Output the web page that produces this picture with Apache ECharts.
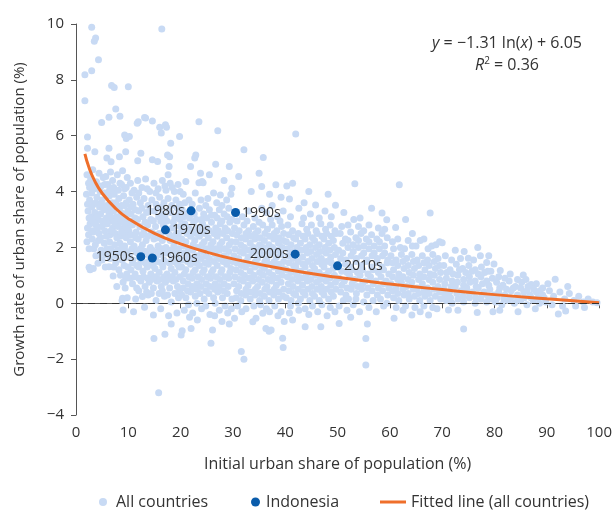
<!DOCTYPE html>
<html>
<head>
<meta charset="utf-8">
<script src="https://cdn.jsdelivr.net/npm/echarts@6/dist/echarts.min.js"></script>
<style>html,body{margin:0;padding:0;background:#fff}#c{width:615px;height:511px}</style>
</head>
<body>
<div id="c"></div>
<script>
// ---- Data ----
const cloud0to10 = [
[3.0,9.88],[3.75,9.5],[3.5,9.38],[4.3,8.72],[1.7,8.18],[3.0,8.33],[1.7,7.25],[6.8,7.8],[7.3,7.73],[10.0,7.75],
[7.6,6.96],[8.4,6.7],[6.3,6.66],[4.9,6.47],[9.3,6.03],[9.6,5.9],[2.2,5.95],[2.2,5.55],[3.6,5.43],[5.9,5.2],
[6.3,5.55],[8.3,5.25],[9.5,5.43],[6.7,5.07],
[2.1,4.6],[2.4,4.3],[2.8,4.45],[3.2,4.78],[3.5,4.1],[3.9,4.35],[4.4,4.66],[4.8,4.2],[5.2,4.5],[5.7,4.54],[6.1,4.25],[6.6,4.7],[7.0,4.4],[7.5,4.05],[7.9,4.6],[8.4,4.3],[8.9,4.75],[9.3,4.1],[9.8,4.5],
[2.0,3.9],[2.6,3.7],[3.0,3.95],[3.4,3.55],[4.0,3.8],[4.5,3.45],[5.0,3.7],[5.5,3.95],[5.9,3.5],[6.4,3.85],[6.9,3.6],[7.3,3.9],[7.8,3.45],[8.2,3.75],[8.7,3.5],[9.1,3.85],[9.6,3.6],
[2.3,3.3],[2.9,3.1],[3.6,3.25],[4.2,3.0],[4.7,3.2],[5.3,3.35],[5.8,3.05],[6.3,3.25],[6.8,2.95],[7.2,3.3],[7.7,3.1],[8.1,2.9],[8.6,3.25],[9.0,3.0],[9.5,3.2],[9.9,2.95],
[2.2,2.7],[2.7,2.85],[3.3,2.55],[3.8,2.8],[4.4,2.5],[4.9,2.75],[5.5,2.6],[6.0,2.85],[6.5,2.45],[7.0,2.7],[7.5,2.5],[8.0,2.75],[8.5,2.4],[8.9,2.65],[9.4,2.5],[9.8,2.75],
[2.1,2.2],[2.5,1.95],[3.1,2.3],[3.7,2.1],[4.3,2.25],[4.8,1.9],[5.4,2.15],[5.9,1.95],[6.4,2.2],[6.9,1.85],[7.4,2.1],[7.9,1.9],[8.4,2.15],[8.8,1.8],[9.3,2.05],[9.7,1.85],
[2.5,1.29],[2.7,1.2],[3.3,1.25],[3.8,1.7],[4.2,1.43],[5.0,1.55],[5.6,1.3],[6.3,1.31],[6.5,1.6],[7.1,0.98],[7.6,1.45],[8.2,1.2],[8.8,1.55],[9.5,0.9],[9.2,1.35],[9.9,1.3],
[8.9,0.18],[9.0,-0.24],[9.8,0.2],[8.8,0.1],[7.8,0.6],[9.4,0.55],
[2.6,4.15],[3.3,4.3],[4.6,4.0],[5.5,4.25],[6.4,4.05],[7.2,4.15],[8.1,4.05],[8.7,4.25],[9.6,4.15],
[2.2,3.55],[3.0,3.45],[3.8,3.6],[4.8,3.55],[5.6,3.4],[6.6,3.45],[7.6,3.6],[8.4,3.45],[9.3,3.5],[9.9,3.3],
[2.5,3.05],[3.3,2.95],[4.0,3.1],[5.0,2.95],[5.7,2.85],[6.6,3.1],[7.4,2.9],[8.3,3.05],[9.2,2.85],
[2.4,2.45],[3.0,2.6],[4.1,2.7],[4.7,2.35],[5.8,2.4],[6.7,2.6],[7.8,2.35],[8.7,2.55],[9.6,2.35],
[3.4,1.95],[4.5,1.75],[5.7,1.75],[6.6,1.95],[7.6,1.7],[8.6,1.95],[9.5,1.65],
[7.2,1.3],[8.5,1.0],[9.0,0.75],[9.7,1.05]
];
const cloud10to20 = [
[13.1,6.65],[11.9,6.5],[14.6,6.53],[16.4,9.82],[16.0,6.3],[17.3,6.3],[16.3,6.1],[11.7,6.45],[13.3,6.63],[17.1,6.39],
[19.8,5.97],[18.1,5.73],[17.9,5.25],[11.8,5.1],[12.4,5.37],[14.6,5.14],[15.6,5.08],[17.5,5.31],[17.8,4.9],[17.6,4.6],[10.2,5.97],
[10.4,4.3],[11.1,4.05],[11.8,4.4],[12.6,4.15],[13.3,4.45],[14.1,4.0],[14.9,4.3],[15.7,4.1],[16.5,4.4],[17.2,4.05],[18.0,4.3],[18.8,4.0],[19.5,4.25],
[10.2,3.7],[10.9,3.55],[11.6,3.8],[12.3,3.6],[13.0,3.75],[13.8,3.5],[14.5,3.7],[15.3,3.55],[16.0,3.8],[16.8,3.6],[17.6,3.75],[18.3,3.5],[19.1,3.7],[19.8,3.55],
[10.5,3.2],[11.3,3.05],[12.0,3.3],[12.8,3.1],[13.5,3.25],[14.3,3.0],[15.0,3.3],[15.8,3.1],[16.6,3.2],[17.4,2.95],[18.1,3.25],[18.9,3.05],[19.6,3.2],
[10.1,2.6],[10.8,2.8],[11.5,2.55],[12.2,2.75],[13.0,2.6],[13.7,2.8],[14.4,2.55],[15.2,2.75],[15.9,2.5],[16.7,2.8],[17.5,2.55],[18.4,2.7],[19.2,2.5],[19.9,2.75],
[10.4,2.2],[11.1,2.05],[11.9,2.3],[12.7,2.1],[13.4,2.25],[14.2,2.0],[14.9,2.3],[15.7,2.05],[16.5,2.25],[17.2,2.0],[18.0,2.25],[18.7,2.05],[19.5,2.3],
[10.2,1.7],[10.9,1.55],[11.7,1.8],[13.3,1.85],[16.0,1.75],[16.8,1.55],[17.6,1.8],[18.4,1.6],[19.2,1.75],[19.9,1.55],
[10.5,1.2],[11.3,1.05],[12.0,1.3],[12.8,1.15],[13.6,1.3],[14.3,1.05],[15.1,1.25],[15.9,1.1],[16.6,1.3],[17.4,1.05],[18.2,1.25],[18.9,1.1],[19.7,1.3],
[10.8,0.7],[11.6,0.55],[12.4,0.8],[13.2,0.6],[14.0,0.75],[14.8,0.55],[15.5,0.8],[16.3,0.6],[17.1,0.75],[17.9,0.55],[18.6,0.8],[19.4,0.6],
[11.4,0.15],[12.7,0.24],[13.8,0.3],[15.3,0.1],[16.9,0.25],[18.2,0.05],[19.6,0.2],
[11.0,-0.3],[13.1,-0.14],[14.8,-0.42],[15.8,-3.2],[14.9,-1.26],[17.0,-1.11],[18.2,-0.74],[16.2,-0.2],[19.3,-0.35],[17.7,-0.45],
[10.7,3.95],[12.0,3.95],[13.6,4.1],[15.3,3.95],[17.0,4.2],[18.4,4.15],[19.9,4.0],
[10.5,3.45],[11.3,3.35],[12.6,3.4],[14.1,3.3],[15.6,3.4],[16.4,3.45],[17.8,3.35],[19.4,3.4],
[10.9,2.95],[11.8,3.0],[13.2,2.9],[14.8,2.95],[16.2,2.95],[17.0,3.1],[18.6,2.9],[19.9,3.0],
[10.5,2.45],[11.4,2.35],[12.6,2.45],[13.7,2.4],[14.7,2.5],[15.6,2.35],[16.3,2.5],[17.9,2.45],[18.8,2.35],[19.6,2.5],
[10.7,1.95],[11.5,1.85],[12.3,1.95],[13.0,1.85],[14.0,1.7],[14.6,1.9],[15.2,1.6],[15.6,1.85],[16.4,1.95],[17.1,1.8],[18.0,1.9],[18.8,1.85],[19.6,1.95],
[10.8,1.45],[11.6,1.35],[12.4,1.5],[13.2,1.45],[14.0,1.5],[14.7,1.35],[15.5,1.5],[16.3,1.45],[17.0,1.5],[17.8,1.45],[18.6,1.5],[19.4,1.4],
[10.4,0.9],[11.2,0.95],[12.0,0.9],[12.9,0.95],[13.7,0.9],[14.4,0.85],[15.2,0.95],[16.0,0.85],[16.9,0.95],[17.6,0.85],[18.3,0.95],[19.1,0.85],[19.9,0.95],
[12.0,0.45],[13.5,0.4],[14.4,0.35],[15.9,0.35],[16.5,0.45],[17.5,0.3],[18.9,0.35],[19.8,0.45]
];
const cloud20to30 = [
[23.5,6.5],[27.1,6.18],[22.7,5.2],[26.7,4.98],[29.3,4.9],[22.9,5.31],[21.9,4.9],[23.8,4.66],[23.5,4.32],[24.3,4.32],[21.0,4.36],[24.1,4.36],[27.6,3.88],[29.8,4.12],[25.5,4.6],[28.3,4.4],
[20.5,3.9],[21.6,3.7],[22.8,3.95],[25.2,3.75],[26.3,3.95],[28.8,3.7],[29.6,3.9],
[20.3,3.35],[21.1,3.2],[23.6,3.4],[24.4,3.2],[25.5,3.35],[26.5,3.15],[27.4,3.35],[28.3,3.2],[29.2,3.4],
[20.8,2.85],[21.6,2.7],[22.5,2.9],[23.3,2.7],[24.2,2.85],[25.0,2.7],[25.9,2.9],[26.7,2.7],[27.6,2.85],[28.5,2.7],[29.4,2.9],
[20.2,2.3],[21.0,2.2],[21.9,2.4],[22.7,2.25],[23.6,2.4],[24.5,2.2],[25.3,2.35],[26.2,2.2],[27.0,2.4],[27.9,2.2],[28.8,2.35],[29.7,2.2],
[20.6,1.8],[21.4,1.7],[22.3,1.9],[23.1,1.7],[24.0,1.85],[24.8,1.7],[25.7,1.9],[26.6,1.75],[27.4,1.9],[28.3,1.7],[29.2,1.85],
[20.2,1.3],[21.0,1.2],[21.9,1.4],[22.8,1.2],[23.6,1.35],[24.5,1.2],[25.3,1.4],[26.2,1.2],[27.0,1.35],[27.9,1.2],[28.8,1.4],[29.6,1.25],
[20.5,0.8],[21.4,0.7],[22.2,0.9],[23.1,0.7],[24.0,0.85],[24.9,0.7],[25.7,0.9],[26.6,0.7],[27.5,0.85],[28.3,0.7],[29.2,0.9],
[20.2,0.3],[21.0,0.2],[21.9,0.4],[22.8,0.25],[23.7,0.35],[24.5,0.15],[25.4,0.35],[26.3,0.2],[27.1,0.4],[28.0,0.2],[28.9,0.35],[29.8,0.15],
[20.7,-0.25],[22.3,-0.35],[24.0,-0.2],[25.6,-0.4],[27.4,-0.25],[29.0,-0.35],
[20.1,-1.14],[20.3,-0.98],[22.0,-0.9],[25.8,-1.43],[26.1,-0.96],[29.3,-0.74],[23.2,-0.6],[27.9,-0.65],
[20.8,3.6],[22.2,3.55],[23.9,3.7],[24.8,3.5],[26.9,3.6],[27.9,3.5],
[20.6,3.1],[21.7,3.05],[22.6,3.2],[23.0,3.0],[24.0,3.0],[25.0,3.05],[25.9,3.15],[27.0,3.05],[27.9,2.95],[28.9,3.1],[29.8,3.0],
[20.4,2.6],[21.2,2.5],[22.1,2.6],[23.0,2.5],[23.8,2.6],[24.6,2.5],[25.5,2.6],[26.4,2.5],[27.2,2.6],[28.1,2.5],[29.0,2.6],[29.9,2.5],
[20.6,2.05],[21.5,1.95],[22.4,2.1],[23.2,2.0],[24.1,2.1],[24.9,1.95],[25.8,2.1],[26.7,1.95],[27.5,2.1],[28.4,1.95],[29.3,2.1],
[20.4,1.55],[21.3,1.5],[22.1,1.6],[23.0,1.45],[23.9,1.6],[24.7,1.45],[25.5,1.6],[26.4,1.5],[27.3,1.6],[28.1,1.5],[29.0,1.6],[29.9,1.5],
[20.7,1.05],[21.6,0.95],[22.4,1.1],[23.3,0.95],[24.2,1.1],[25.1,0.95],[25.9,1.1],[26.8,0.95],[27.7,1.1],[28.5,0.95],[29.4,1.1],
[20.5,0.55],[21.3,0.45],[22.2,0.6],[23.0,0.5],[23.9,0.6],[24.8,0.45],[25.6,0.6],[26.5,0.5],[27.4,0.6],[28.2,0.45],[29.1,0.6],
[21.5,-0.05],[23.1,0.0],[24.8,-0.1],[26.6,0.0],[28.5,-0.1],[29.7,-0.2],[21.7,-0.5],[26.5,-0.45]
];
const cloud30to40 = [
[32.1,5.5],[35.8,5.22],[35.0,4.66],[35.5,4.18],[38.2,4.24],[31.1,4.54],[33.5,4.0],[37.0,3.9],[39.2,3.8],
[31.8,3.1],[33.0,3.3],[34.2,3.05],[36.4,3.25],[38.5,3.1],[39.6,3.3],
[30.3,2.7],[31.2,2.6],[32.1,2.8],[33.0,2.6],[33.9,2.75],[34.8,2.6],[35.7,2.8],[36.6,2.65],[37.5,2.8],[38.4,2.6],[39.3,2.75],
[30.6,2.2],[31.5,2.1],[32.4,2.3],[33.3,2.15],[34.2,2.3],[35.1,2.1],[36.0,2.25],[36.9,2.1],[37.8,2.3],[38.7,2.15],[39.6,2.25],
[30.2,1.7],[31.1,1.6],[32.0,1.8],[32.9,1.65],[33.8,1.8],[34.7,1.6],[35.6,1.75],[36.5,1.6],[37.4,1.8],[38.3,1.65],[39.2,1.75],
[30.6,1.2],[31.5,1.1],[32.4,1.3],[33.3,1.15],[34.2,1.3],[35.1,1.1],[36.0,1.25],[36.9,1.1],[37.8,1.3],[38.7,1.15],[39.6,1.25],
[30.2,0.7],[31.1,0.6],[32.0,0.8],[32.9,0.65],[33.8,0.8],[34.7,0.6],[35.6,0.75],[36.5,0.6],[37.4,0.8],[38.3,0.65],[39.2,0.75],
[30.6,0.2],[31.5,0.1],[32.4,0.3],[33.3,0.15],[34.2,0.3],[35.1,0.1],[36.0,0.25],[36.9,0.1],[37.8,0.3],[38.7,0.15],[39.6,0.25],
[30.3,-0.54],[31.7,-0.3],[33.8,-0.66],[35.7,-0.36],[34.4,-0.54],[37.0,-0.3],[38.6,-0.45],[39.8,-0.65],
[31.6,-1.73],[32.1,-2.0],[36.3,-0.9],[36.9,-1.0],[37.3,-0.96],[39.5,-1.25],[39.6,-1.58],
[30.8,2.95],[32.7,2.95],[35.0,2.9],[37.2,3.0],[39.0,2.95],[35.5,3.4],[37.5,3.5],
[30.7,2.45],[31.6,2.35],[32.5,2.5],[33.4,2.4],[34.3,2.5],[35.2,2.35],[36.1,2.5],[37.0,2.4],[37.9,2.5],[38.8,2.35],[39.7,2.5],
[30.4,1.95],[31.3,1.85],[32.2,2.0],[33.1,1.9],[34.0,2.0],[34.9,1.85],[35.8,2.0],[36.7,1.85],[37.6,2.0],[38.5,1.9],[39.4,2.0],
[30.7,1.45],[31.6,1.35],[32.5,1.5],[33.4,1.4],[34.3,1.5],[35.2,1.35],[36.1,1.5],[37.0,1.4],[37.9,1.5],[38.8,1.4],[39.7,1.5],
[30.4,0.95],[31.3,0.85],[32.2,1.0],[33.1,0.9],[34.0,1.0],[34.9,0.85],[35.8,1.0],[36.7,0.85],[37.6,1.0],[38.5,0.9],[39.4,1.0],
[30.7,0.45],[31.6,0.35],[32.5,0.5],[33.4,0.4],[34.3,0.5],[35.2,0.35],[36.1,0.5],[37.0,0.4],[37.9,0.5],[38.8,0.4],[39.7,0.5],
[30.9,-0.1],[32.5,-0.2],[34.0,-0.1],[35.3,-0.05],[36.4,-0.2],[38.0,-0.1],[39.2,-0.3]
];
const cloud40to50 = [
[42.0,6.06],[40.3,4.2],[41.4,4.3],[40.8,3.73],[43.6,3.6],[42.6,3.4],[45.8,3.52],[47.6,3.3],[49.6,3.51],[44.5,4.0],[48.2,3.9],
[40.5,2.8],[41.4,2.6],[43.2,2.85],[44.1,2.65],[45.0,2.8],[45.9,2.6],[46.8,2.85],[47.7,2.65],[48.6,2.8],[49.5,2.6],
[40.2,2.2],[41.1,2.1],[42.0,2.3],[42.9,2.15],[43.8,2.3],[44.7,2.1],[45.6,2.25],[46.5,2.1],[47.4,2.3],[48.3,2.15],[49.2,2.25],
[40.6,1.7],[41.5,1.6],[43.3,1.65],[44.2,1.8],[45.1,1.6],[46.0,1.75],[46.9,1.6],[47.8,1.8],[48.7,1.65],[49.6,1.75],
[40.2,1.2],[41.1,1.1],[42.0,1.3],[42.9,1.15],[43.8,1.3],[44.7,1.1],[45.6,1.25],[46.5,1.1],[47.4,1.3],[48.3,1.15],[49.2,1.25],
[40.6,0.7],[41.5,0.6],[42.4,0.8],[43.3,0.65],[44.2,0.8],[45.1,0.6],[46.0,0.75],[46.9,0.6],[47.8,0.8],[48.7,0.65],[49.6,0.75],
[40.2,0.2],[41.1,0.1],[42.0,0.3],[42.9,0.15],[43.8,0.3],[44.7,0.1],[45.6,0.25],[46.5,0.1],[47.4,0.3],[48.3,0.15],[49.2,0.25],
[40.8,-0.35],[41.4,-0.6],[42.6,-0.25],[43.8,-0.84],[44.5,-0.4],[46.2,-0.3],[46.8,-0.84],[48.0,-0.45],[49.5,-0.3],
[41.0,3.1],[43.5,3.05],[44.8,3.2],[46.5,3.05],[48.8,3.1],
[40.7,2.45],[41.6,2.35],[42.5,2.5],[43.4,2.4],[44.3,2.5],[45.2,2.35],[46.1,2.5],[47.0,2.4],[47.9,2.5],[48.8,2.4],[49.7,2.5],
[40.4,1.95],[41.3,1.85],[42.2,2.0],[43.1,1.9],[44.0,2.0],[44.9,1.85],[45.8,2.0],[46.7,1.85],[47.6,2.0],[48.5,1.9],[49.4,2.0],
[40.7,1.45],[41.6,1.35],[42.5,1.5],[43.4,1.4],[44.3,1.5],[45.2,1.35],[46.1,1.5],[47.0,1.4],[47.9,1.5],[48.8,1.45],
[40.4,0.95],[41.3,0.85],[42.2,1.0],[43.1,0.9],[44.0,1.0],[44.9,0.85],[45.8,1.0],[46.7,0.85],[47.6,1.0],[48.5,0.9],[49.4,1.0],
[40.7,0.45],[41.6,0.35],[42.5,0.5],[43.4,0.4],[44.3,0.5],[45.2,0.35],[46.1,0.5],[47.0,0.4],[47.9,0.5],[48.8,0.4],[49.7,0.5],
[41.0,-0.1],[42.5,0.0],[43.8,-0.2],[45.2,-0.1],[47.0,-0.05],[48.6,-0.15]
];
const cloud50to60 = [
[53.3,4.28],[51.2,3.25],[54.3,3.05],[58.5,3.23],[59.4,2.99],[56.5,3.4],[53.1,3.0],[55.0,2.6],
[50.5,2.5],[51.5,2.3],[52.5,2.55],[53.5,2.35],[54.5,2.5],[55.5,2.3],[56.5,2.45],[57.5,2.3],[58.5,2.5],[59.5,2.35],
[50.2,1.9],[51.0,1.8],[52.0,2.0],[53.0,1.85],[54.0,2.0],[55.0,1.8],[56.0,1.95],[57.0,1.8],[58.0,1.95],[59.0,1.8],
[51.5,1.4],[52.5,1.3],[53.5,1.5],[54.5,1.35],[55.5,1.5],[56.5,1.3],[57.5,1.45],[58.5,1.3],[59.5,1.45],
[50.3,0.9],[51.3,0.8],[52.3,1.0],[53.3,0.85],[54.3,1.0],[55.3,0.8],[56.3,0.95],[57.3,0.8],[58.3,0.95],[59.3,0.8],
[50.6,0.4],[51.6,0.3],[52.6,0.5],[53.6,0.35],[54.6,0.5],[55.6,0.3],[56.6,0.45],[57.6,0.3],[58.6,0.45],[59.6,0.3],
[50.3,-0.1],[51.8,-0.25],[53.0,-0.05],[54.2,-0.3],[56.0,-0.15],[57.4,-0.3],[58.8,-0.1],
[50.3,-0.72],[55.4,-1.26],[55.4,-2.21],[55.7,-0.74],[52.5,-0.5],
[50.8,2.75],[52.0,2.8],[54.0,2.75],[56.0,2.8],[57.8,2.7],[59.0,2.65],
[51.0,2.15],[52.0,2.25],[53.0,2.1],[54.0,2.25],[55.0,2.05],[56.0,2.2],[57.0,2.05],[58.0,2.2],[59.0,2.05],
[50.6,1.6],[51.6,1.55],[52.6,1.7],[53.6,1.6],[54.6,1.7],[55.6,1.55],[56.6,1.7],[57.6,1.6],[58.6,1.7],[59.6,1.55],
[50.8,1.15],[51.8,1.1],[52.8,1.2],[53.8,1.1],[54.8,1.2],[55.8,1.05],[56.8,1.2],[57.8,1.1],[58.8,1.2],[59.8,1.05],
[50.8,0.65],[51.8,0.55],[52.8,0.7],[53.8,0.6],[54.8,0.7],[55.8,0.55],[56.8,0.7],[57.8,0.55],[58.8,0.7],[59.8,0.55],
[51.1,0.1],[52.1,0.15],[53.5,0.15],[55.0,0.05],[56.8,0.1],[58.2,0.15],[59.4,0.0]
];
const cloud60to70 = [
[61.8,4.24],[61.1,2.71],[67.7,3.23],[64.3,2.5],[63.0,3.0],
[60.5,2.2],[62.0,2.0],[63.5,2.25],[65.0,2.05],[66.5,2.3],[68.0,2.05],[69.5,2.2],
[60.2,1.7],[61.2,1.55],[62.2,1.75],[63.2,1.6],[64.2,1.75],[65.2,1.55],[66.2,1.7],[67.2,1.55],[68.2,1.75],[69.2,1.6],
[60.7,1.2],[61.7,1.05],[62.7,1.25],[63.7,1.1],[64.7,1.25],[65.7,1.05],[66.7,1.2],[67.7,1.05],[68.7,1.25],[69.7,1.1],
[60.2,0.7],[61.2,0.55],[62.2,0.75],[63.2,0.6],[64.2,0.75],[65.2,0.55],[66.2,0.7],[67.2,0.55],[68.2,0.75],[69.2,0.6],
[60.7,0.2],[61.7,0.1],[62.7,0.3],[63.7,0.15],[64.7,0.25],[65.7,0.1],[66.7,0.25],[67.7,0.1],[68.7,0.25],[69.7,0.15],
[60.8,-0.54],[64.2,-0.42],[67.4,-0.42],[62.5,-0.25],[65.8,-0.3],[69.0,-0.2],
[60.7,1.95],[61.5,2.3],[62.8,1.95],[64.3,2.05],[65.8,2.25],[67.3,1.95],[68.8,2.1],
[60.5,1.45],[61.5,1.35],[62.5,1.5],[63.5,1.35],[64.5,1.5],[65.5,1.35],[66.5,1.45],[67.5,1.35],[68.5,1.5],[69.5,1.35],
[60.5,0.95],[61.5,0.85],[62.5,0.95],[63.5,0.85],[64.5,1.0],[65.5,0.85],[66.5,0.95],[67.5,0.85],[68.5,1.0],[69.5,0.85],
[60.5,0.45],[61.5,0.35],[62.5,0.5],[63.5,0.35],[64.5,0.5],[65.5,0.35],[66.5,0.45],[67.5,0.35],[68.5,0.5],[69.5,0.4],
[61.2,-0.15],[63.0,-0.1],[64.8,-0.15],[66.5,-0.1],[68.2,-0.15]
];
const cloud70to80 = [
[70.0,2.17],[75.0,1.61],[78.5,1.46],[79.9,1.41],[72.5,1.9],[76.8,2.0],
[70.3,1.35],[71.5,1.2],[72.7,1.4],[73.9,1.25],[75.1,1.35],[76.3,1.2],[77.5,1.3],[78.7,1.15],
[70.8,0.9],[71.9,0.8],[73.0,1.0],[74.1,0.85],[75.2,0.95],[76.3,0.8],[77.4,0.95],[78.5,0.8],[79.6,0.9],
[70.3,0.5],[71.4,0.4],[72.5,0.6],[73.6,0.45],[74.7,0.55],[75.8,0.4],[76.9,0.55],[78.0,0.4],[79.1,0.5],
[70.8,0.1],[71.9,0.0],[73.0,0.15],[74.1,0.05],[75.2,0.2],[76.3,0.0],[77.4,0.15],[78.5,0.05],[79.6,0.15],
[71.2,-0.24],[74.1,-0.92],[76.7,-0.33],[79.7,-0.3],[73.0,-0.25],
[70.6,1.7],[71.8,1.55],[73.5,1.6],[74.2,1.85],[76.0,1.55],[77.3,1.7],[78.9,1.7],
[70.9,1.1],[72.1,1.05],[73.3,1.2],[74.5,1.1],[75.7,1.15],[76.9,1.05],[78.1,1.1],[79.3,1.15],
[70.5,0.7],[71.7,0.6],[72.9,0.75],[74.1,0.65],[75.3,0.75],[76.5,0.6],[77.7,0.7],[78.9,0.65],
[70.5,0.3],[71.6,0.2],[72.8,0.35],[74.0,0.25],[75.2,0.35],[76.4,0.2],[77.6,0.3],[78.8,0.25],[79.9,0.3]
];
const cloud80to100 = [
[81.1,1.17],[85.5,1.01],[87.0,0.67],[83.0,1.05],
[80.4,0.75],[81.6,0.65],[82.8,0.8],[84.0,0.6],[85.2,0.75],[86.4,0.6],[88.0,0.7],[89.2,0.55],
[80.8,0.4],[82.0,0.3],[83.2,0.45],[84.4,0.3],[85.6,0.4],[86.8,0.3],[88.0,0.4],[89.2,0.3],
[80.2,0.05],[81.4,-0.05],[82.6,0.1],[83.8,0.0],[85.0,0.1],[86.2,-0.05],[87.4,0.1],[88.6,0.0],[89.8,0.05],
[81.0,-0.25],[84.5,-0.3],[87.8,-0.2],
[91.6,0.86],[92.2,-0.38],[93.6,-0.28],[90.5,0.45],[91.3,0.25],[92.5,0.4],[93.4,0.15],[94.3,0.35],[95.2,0.1],[96.1,0.25],[97.0,0.05],[97.9,0.15],[98.8,0.05],[99.6,0.02],
[91.0,-0.05],[93.0,-0.1],[95.5,-0.1],[97.2,-0.15],[90.2,0.7],[94.0,0.6],
[80.8,0.95],[82.0,0.9],[84.4,0.85],[86.0,0.85],[81.0,0.55],[82.3,0.5],[83.6,0.55],[85.0,0.55],[86.2,0.45],[87.5,0.5],[88.7,0.45],
[80.5,0.2],[81.8,0.15],[83.1,0.2],[84.4,0.15],[85.7,0.2],[87.0,0.2],[88.3,0.2],[89.5,0.2]
];

const indonesiaDecades = ['1950s','1960s','1970s','1980s','1990s','2000s','2010s'];
const indonesiaShare   = [12.4, 14.6, 17.1, 22.0, 30.5, 41.9, 50.0];
const indonesiaGrowth  = [1.67, 1.62, 2.63, 3.31, 3.25, 1.76, 1.34];

const fittedX = [1.7, 2.5, 3.5, 5, 7.5, 10, 15, 20, 25, 30, 40, 50, 60, 70, 80, 90, 100];
const fittedY = [5.35, 4.85, 4.41, 3.94, 3.41, 3.03, 2.50, 2.13, 1.83, 1.59, 1.22, 0.93, 0.69, 0.49, 0.31, 0.16, 0.02];

// ---- Chart ----
const FONT = '"Open Sans", "Noto Sans", sans-serif';
const TXT = '#333333';
const LIGHT = '#c8daf4';
const DARK = '#0a5cab';
const ORANGE = '#ef6f2b';

const allCloud = [].concat(cloud0to10, cloud10to20, cloud20to30, cloud30to40,
  cloud40to50, cloud50to60, cloud60to70, cloud70to80, cloud80to100);

const leftLabels = {'1950s': true, '1980s': true, '2000s': true};
const indoData = indonesiaDecades.map((d, i) => ({
  value: [indonesiaShare[i], indonesiaGrowth[i]],
  name: d,
  label: { position: leftLabels[d] ? 'left' : 'right' }
}));
const fitted = fittedX.map((x, i) => [x, fittedY[i]]);

const chart = echarts.init(document.getElementById('c'), null, {renderer: 'canvas'});
chart.setOption({
  animation: false,
  backgroundColor: '#fff',
  textStyle: { fontFamily: FONT },
  grid: { left: 76, right: 14, top: 24, bottom: 96, containLabel: false },
  xAxis: {
    type: 'value', min: 0, max: 100, interval: 10,
    name: 'Initial urban share of population (%)',
    nameLocation: 'middle', nameGap: 41,
    nameTextStyle: { color: TXT, fontSize: 16, fontFamily: FONT },
    axisLine: { show: true, lineStyle: { color: '#555', width: 1 } },
    axisTick: { show: true, length: 5, lineStyle: { color: '#555' } },
    axisLabel: { color: TXT, fontSize: 15, margin: 10, fontFamily: FONT },
    splitLine: { show: false }
  },
  yAxis: {
    type: 'value', min: -4, max: 10, interval: 2,
    name: 'Growth rate of urban share of population (%)',
    nameLocation: 'middle', nameGap: 49, nameRotate: 90,
    nameTextStyle: { color: TXT, fontSize: 15, fontFamily: FONT },
    axisLine: { show: true, lineStyle: { color: '#555', width: 1 } },
    axisTick: { show: true, length: 5, lineStyle: { color: '#555' } },
    axisLabel: { color: TXT, fontSize: 15, margin: 12, fontFamily: FONT,
      formatter: v => (v < 0 ? '\u2212' + Math.abs(v) : String(v)) },
    splitLine: { show: false }
  },
  legend: [
    { data: [{ name: 'All countries', icon: 'circle' }], left: 94, top: 489,
      itemWidth: 8, itemHeight: 8, textStyle: { color: TXT, fontSize: 16, padding: [0,0,0,4], fontFamily: FONT } },
    { data: [{ name: 'Indonesia', icon: 'circle' }], left: 246, top: 489,
      itemWidth: 9, itemHeight: 9, textStyle: { color: TXT, fontSize: 16, padding: [0,0,0,1], fontFamily: FONT } },
    { data: [{ name: 'Fitted line (all countries)', icon: 'rect' }], left: 375, top: 489,
      itemWidth: 26, itemHeight: 3, textStyle: { color: TXT, fontSize: 16, fontFamily: FONT } }
  ],
  series: [
    {
      name: 'All countries', type: 'scatter', data: allCloud,
      symbolSize: 7, itemStyle: { color: LIGHT, opacity: 1 }, z: 1
    },
    {
      name: 'Fitted line (all countries)', type: 'line', data: fitted,
      smooth: 0.5, symbol: 'none', showSymbol: false,
      lineStyle: { color: ORANGE, width: 3 }, itemStyle: { color: ORANGE }, z: 3,
      markLine: {
        silent: true, symbol: 'none', label: { show: false },
        lineStyle: { color: '#333', type: [7, 5], width: 1 },
        data: [{ yAxis: 0 }]
      }
    },
    {
      name: 'Indonesia', type: 'scatter', data: indoData,
      symbolSize: 9, itemStyle: { color: DARK, opacity: 1 }, z: 4,
      label: { show: true, formatter: p => p.name, color: TXT, fontSize: 14, distance: 2, fontFamily: FONT }
    }
  ],
  graphic: [
    {
      type: 'text', x: 507, y: 43,
      style: {
        text: '{i|y} = \u22121.31 ln({i|x}) + 6.05',
        align: 'center', verticalAlign: 'middle',
        fill: TXT, font: '16px ' + FONT,
        rich: { i: { fontStyle: 'italic', fontSize: 16, fontFamily: FONT, fill: TXT } }
      }
    },
    {
      type: 'text', x: 507, y: 65,
      style: {
        text: '{i|R}{s|2} = 0.36',
        align: 'center', verticalAlign: 'middle',
        fill: TXT, font: '16px ' + FONT,
        rich: {
          i: { fontStyle: 'italic', fontSize: 16, fontFamily: FONT, fill: TXT },
          s: { fontSize: 10, fontFamily: FONT, fill: TXT, verticalAlign: 'top', padding: [0,0,8,0] }
        }
      }
    }
  ]
});
</script>
</body>
</html>
